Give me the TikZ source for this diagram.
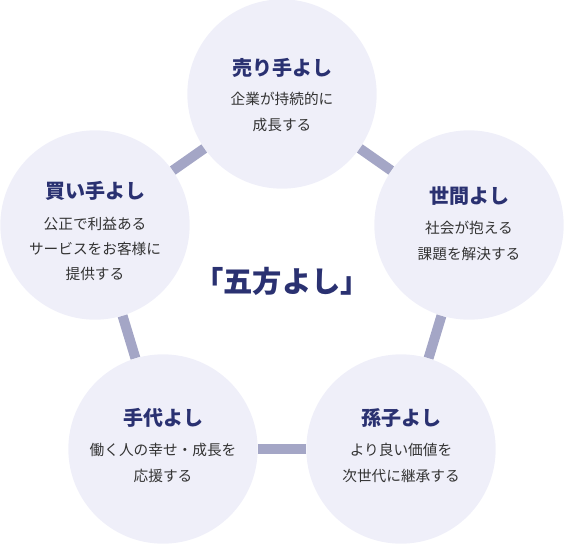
\documentclass[tikz,border=0pt]{standalone}
\usepackage{fontspec}
\setmainfont{Noto Sans CJK JP}
\usetikzlibrary{calc}
\definecolor{cBall}{HTML}{EFEFF9}
\definecolor{cBar}{HTML}{A4A6C6}
\definecolor{cHead}{HTML}{2A3171}
\definecolor{cBody}{HTML}{333333}

\begin{document}
\begin{tikzpicture}[
    x=0.75pt, y=-0.75pt,
    ball/.style={circle, fill=cBall, minimum size=142pt, inner sep=0pt},
    bar/.style={draw=cBar, line width=7.5pt},
    ttl/.style={font=\fontsize{15}{17}\selectfont\bfseries, text=cHead, inner sep=0pt},
    body/.style={font=\fontsize{11}{19}\selectfont, text=cBody, align=center, inner sep=0pt},
    big/.style={font=\fontsize{22}{24}\selectfont\bfseries, text=cHead, inner sep=0pt},
]
\useasboundingbox (0,0) rectangle (564,543);

% ===================== Circulos =====================
\node[ball] (uri)   at (282,94)  {};
\node[ball] (seken) at (469,225) {};
\node[ball] (kai)   at (95,225)  {};
\node[ball] (tedai) at (163,449) {};
\node[ball] (mago)  at (401,449) {};

% ===================== Barras =====================
\draw[bar] (uri) -- (seken);
\draw[bar] (seken) -- (mago);
\draw[bar] (mago) -- (tedai);
\draw[bar] (tedai) -- (kai);
\draw[bar] (kai) -- (uri);

% ===================== Textos =====================
\node[ttl]  (uriT)   at (282,68)  {売り手よし};
\node[body] (uriB)   at (282,112) {企業が持続的に\\成長する};

\node[ttl]  (sekenT) at (469,196) {世間よし};
\node[body] (sekenB) at (469,241) {社会が抱える\\課題を解決する};

\node[ttl]  (kaiT)   at (95,191)  {買い手よし};
\node[body] (kaiB)   at (95,249)  {公正で利益ある\\サービスをお客様に\\提供する};

\node[ttl]  (tedaiT) at (163,418) {手代よし};
\node[body] (tedaiB) at (163,463) {働く人の幸せ・成長を\\応援する};

\node[ttl]  (magoT)  at (401,418) {孫子よし};
\node[body] (magoB)  at (401,463) {より良い価値を\\次世代に継承する};

\node[big] (gohou) at (282,281) {「五方よし」};

\end{tikzpicture}
\end{document}
